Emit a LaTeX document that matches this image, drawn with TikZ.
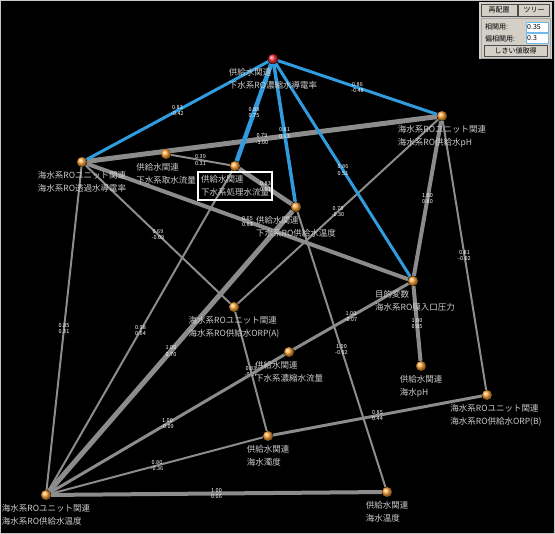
\documentclass[tikz,border=0pt]{standalone}
\usepackage{fontspec}
\setmainfont{Noto Sans CJK JP}
\usetikzlibrary{positioning, calc, fit}

\definecolor{edgeblue}{RGB}{48,156,222}
\definecolor{edgegray}{RGB}{140,140,140}
\definecolor{nodeorange}{RGB}{255,165,55}
\definecolor{nodered}{RGB}{245,45,55}
\definecolor{labgray}{RGB}{205,205,205}
\definecolor{winbg}{RGB}{212,208,200}

\pgfdeclarelayer{back}
\pgfsetlayers{back,main}

\tikzset{
    ball/.style={circle, minimum size=10pt, inner sep=0pt, shading=ball, ball color=#1},
    nlab/.style={text=labgray, align=left, anchor=north, inner sep=0pt, font=\fontsize{8.5}{13.5}\selectfont},
    val/.style={midway, text=white, align=center, inner sep=0pt, font=\fontsize{5.5}{6.5}\selectfont},
    gedge/.style={draw=edgegray, line width=#1},
    bedge/.style={draw=edgeblue, line width=#1},
    selbox/.style={draw=white, line width=2.4pt, inner sep=3pt},
    winbtn/.style={draw=gray!60!black, fill=winbg, inner sep=0pt, font=\fontsize{7}{8}\selectfont},
    winbox/.style={draw=edgeblue!70, fill=white, minimum height=10pt, text width=20pt, inner xsep=1pt, inner ysep=0pt, align=left, anchor=west, font=\fontsize{7}{8}\selectfont},
}

\begin{document}
\begin{tikzpicture}[x=1pt, y=-1pt]

    \useasboundingbox (0,0) rectangle (555,534);

    % 1. Uzly (barva / poloha / posun popisku / dva řádky popisku)
    \foreach \n/\c/\x/\y/\dx/\la/\lb in {
        R/nodered/273/59/0/供給水関連/下水系RO濃縮水導電率,
        A/nodeorange/82/162/0/海水系ROユニット関連/海水系RO透過水導電率,
        B/nodeorange/442/116/0/海水系ROユニット関連/海水系RO供給水pH,
        C/nodeorange/166/154/0/供給水関連/下水系取水流量,
        D/nodeorange/235/166/0/供給水関連/下水系処理水流量,
        E/nodeorange/296/207/0/供給水関連/下水系RO供給水温度,
        F/nodeorange/413/281/2/目的変数/海水系RO膜入口圧力,
        G/nodeorange/234/307/0/海水系ROユニット関連/海水系RO供給水ORP(A),
        H/nodeorange/289/352/0/供給水関連/下水系濃縮水流量,
        I/nodeorange/421/366/0/供給水関連/海水pH,
        J/nodeorange/487/395/9/海水系ROユニット関連/海水系RO供給水ORP(B),
        K/nodeorange/268/436/0/供給水関連/海水濁度,
        L/nodeorange/46/495/0/海水系ROユニット関連/海水系RO供給水温度,
        M/nodeorange/387/492/0/供給水関連/海水温度} {
        \node[ball=\c] (\n) at (\x,\y) {};
        \node[nlab] (\n-lab) at ($(\n)+(\dx,9)$) {\la\\\lb};
    }

    % vybraný uzel
    \node[selbox, fit=(D-lab)] (D-box) {};

    % 2. Hrany pod uzly
    \begin{pgfonlayer}{back}
        \fill[black] (0,0) rectangle (555,534);
        \draw[gray!45, line width=1pt] (0.5,0.5) rectangle (554.5,533.5);

        % šedé hrany
        \foreach \a/\b/\w/\p/\q in {
            A/B/5/0.79/-1.00, C/D/2/0.39/0.31, D/E/4.5/0.83/0.61,
            A/F/4/0.65/0.63, A/L/2/0.85/0.31, A/G/2/0.69/-0.09,
            D/L/2/0.98/0.04, E/L/5/1.00/0.70, G/B/2/0.78/-0.30,
            G/K/2/0.83/-0.07, L/H/3/1.00/-0.09, H/F/3/1.00/-0.07,
            E/M/2/1.00/-0.92, B/F/4/1.00/0.80, B/J/2/0.81/-0.92,
            F/I/4/1.00/0.85, K/J/3/0.85/0.44, L/K/2/0.80/-0.36,
            L/M/4/1.00/0.06} {
            \draw[gedge=\w] (\a) -- (\b) node[val] {\p\\\q};
        }

        % modré hrany z cílového uzlu
        \foreach \b/\w/\p/\q in {A/3/0.83/-0.42, D/4.5/0.88/0.75, E/3.5/0.81/0.63,
                                 F/3/0.86/0.51, B/3/0.86/-0.48} {
            \draw[bedge=\w] (R) -- (\b) node[val] {\p\\\q};
        }
    \end{pgfonlayer}

    % 3. Ovládací panel
    \fill[winbg] (479,2) rectangle (552,59);
    \node[winbtn, minimum width=36pt, minimum height=12pt] (btn-re) at (499,10) {再配置};
    \node[winbtn, minimum width=31pt, minimum height=12pt] (btn-tree) at (534,10) {ツリー};
    \node[draw=gray!70, fill=winbg, minimum width=69pt, minimum height=40pt, inner sep=0pt] (pnl) at (515.5,38) {};
    \node[anchor=west, inner sep=0pt, font=\fontsize{7}{8}\selectfont] (t-kor) at (485,27) {相関用:};
    \node[winbox] (in-kor) at (526,27) {0.35};
    \node[anchor=west, inner sep=0pt, font=\fontsize{7}{8}\selectfont] (t-pkor) at (485,38.5) {偏相関用:};
    \node[winbox] (in-pkor) at (526,38.5) {0.3};
    \node[winbtn, minimum width=63pt, minimum height=11pt] (btn-th) at (515.5,50.5) {しきい値取得};

\end{tikzpicture}
\end{document}
